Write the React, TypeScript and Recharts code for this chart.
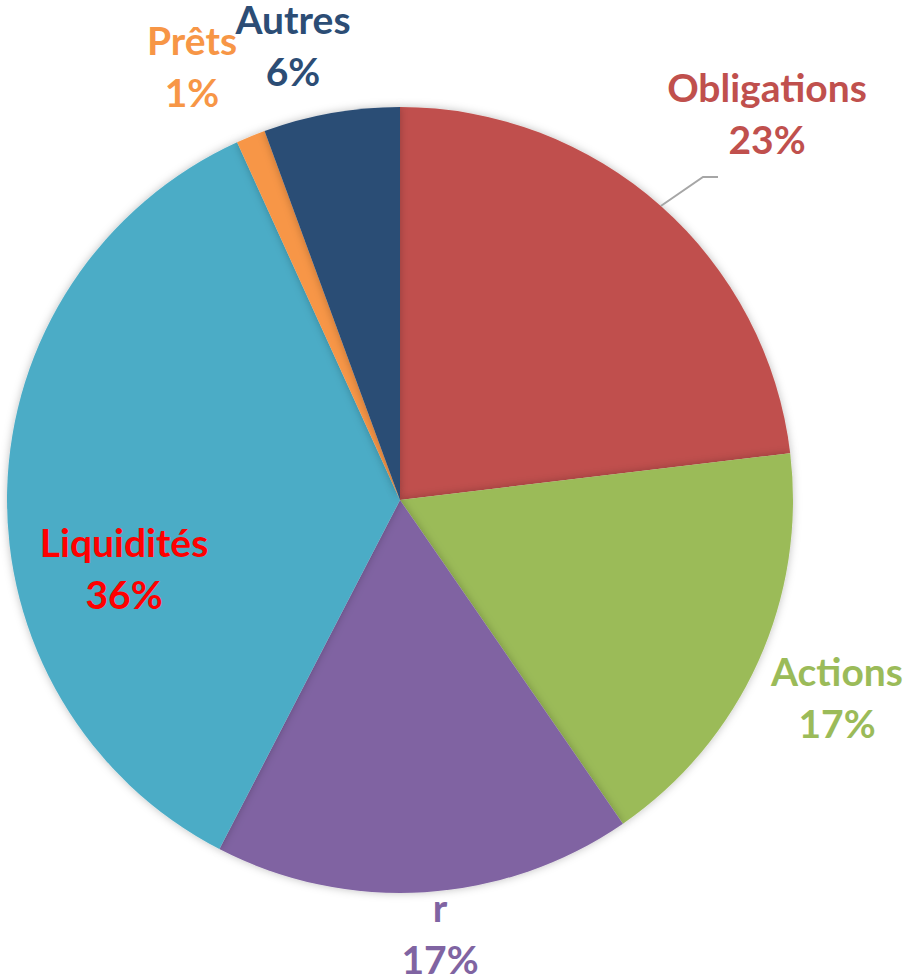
import { PieChart, Pie, Cell } from "recharts";

const categories = ["Obligations", "Actions", "r", "Liquidités", "Prêts", "Autres"];
const shares = [23.1, 17.3, 17.2, 35.6, 1.2, 5.6];

const sliceColors = ["#C0504D", "#9BBB59", "#8064A2", "#4BACC6", "#F79646", "#2C4D75"];
const labelColors = ["#C0504D", "#9BBB59", "#8064A2", "#FF0000", "#F79646", "#2C4D75"];

// label block centre, relative to the pie centre
const labelOffsets = [
  { dx: 367, dy: -387 },
  { dx: 437, dy: 197 },
  { dx: 40, dy: 433 },
  { dx: -276, dy: 68 },
  { dx: -208, dy: -434 },
  { dx: -107, dy: -455 },
];

const data = categories.map((name, i) => ({ name, value: shares[i] }));

const FONT = "Lato, 'Open Sans', sans-serif";
const FONT_SIZE = 39;

function renderLabel(props: any) {
  const { cx, cy, index, percent, name, midAngle, outerRadius } = props;
  const off = labelOffsets[index];
  const x = cx + off.dx;
  const y = cy + off.dy;
  const color = labelColors[index];
  const pct = Math.round(percent * 100) + "%";
  let leader = null;
  if (index === 0) {
    const rad = (Math.PI / 180) * midAngle;
    const sx = cx + outerRadius * Math.cos(rad);
    const sy = cy - outerRadius * Math.sin(rad);
    leader = (
      <polyline
        points={`${sx},${sy} ${x - 64},${y + 64} ${x - 49},${y + 64}`}
        fill="none"
        stroke="#A6A6A6"
        strokeWidth={2}
      />
    );
  }
  return (
    <g key={`lbl-${index}`}>
      {leader}
      <text
        x={x}
        y={y - 26}
        textAnchor="middle"
        dominantBaseline="central"
        fill={color}
        fontFamily={FONT}
        fontWeight={700}
        fontSize={FONT_SIZE}
      >
        {name}
      </text>
      <text
        x={x}
        y={y + 26}
        textAnchor="middle"
        dominantBaseline="central"
        fill={color}
        fontFamily={FONT}
        fontWeight={700}
        fontSize={FONT_SIZE}
      >
        {pct}
      </text>
    </g>
  );
}

export default function App() {
  return (
    <div style={{ position: "absolute", left: 0, top: 0, width: 910, height: 978, background: "#fff" }}>
      <PieChart width={910} height={978} margin={{ top: 0, right: 0, bottom: 0, left: 0 }}>
        <defs>
          <filter id="pieShadow" x="-10%" y="-10%" width="120%" height="120%">
            <feDropShadow dx="0" dy="0" stdDeviation="4" floodColor="#000" floodOpacity="0.25" />
          </filter>
        </defs>
        <Pie
          data={data}
          dataKey="value"
          nameKey="name"
          cx={400}
          cy={500}
          outerRadius={393}
          startAngle={90}
          endAngle={-270}
          stroke="none"
          label={renderLabel}
          labelLine={false}
          isAnimationActive={false}
          style={{ filter: "url(#pieShadow)" }}
        >
          {data.map((d, i) => (
            <Cell key={d.name} fill={sliceColors[i]} />
          ))}
        </Pie>
      </PieChart>
    </div>
  );
}
